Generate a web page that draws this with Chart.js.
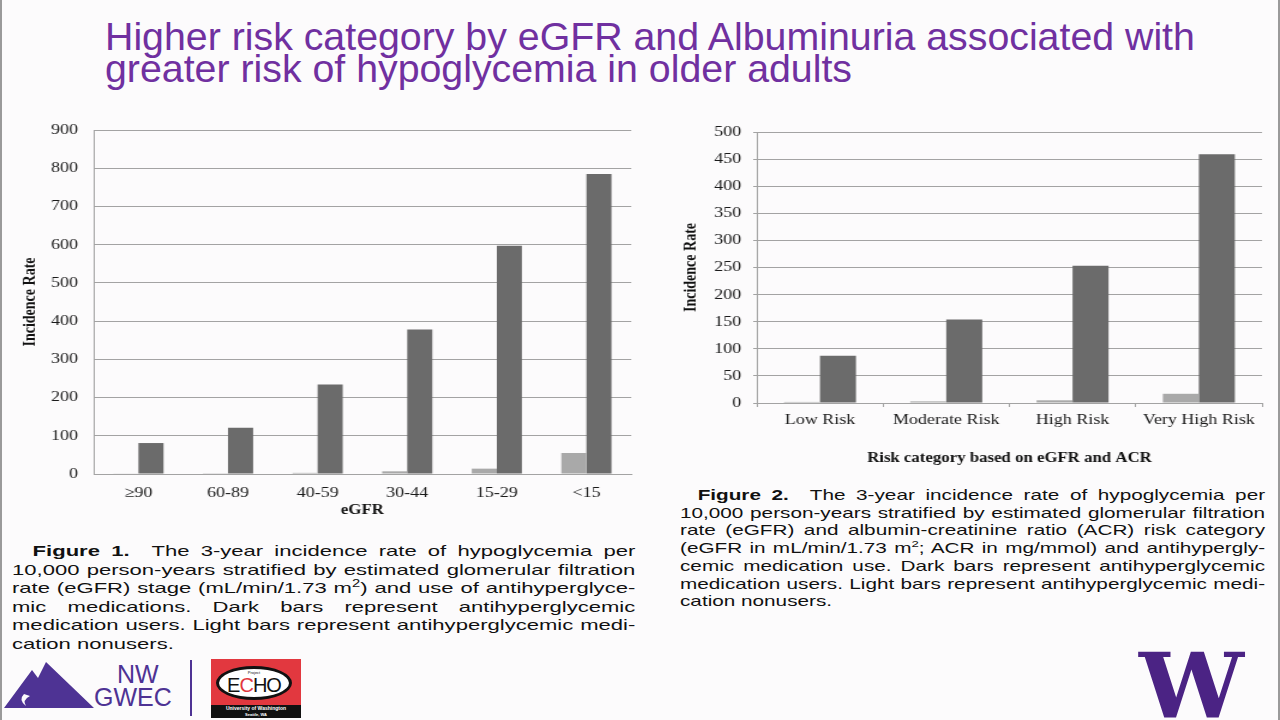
<!DOCTYPE html>
<html>
<head>
<meta charset="utf-8">
<script src="https://cdn.jsdelivr.net/npm/chart.js@4.4.0/dist/chart.umd.min.js"></script>
<style>
  body { margin: 0; width: 1280px; height: 720px; background: #fcfbfc; position: relative; overflow: hidden; font-family: "Liberation Sans", Arial, sans-serif; }
  .edge { position: absolute; top: 0; width: 2px; height: 720px; background: #9a9a9a; }
  h1 { position: absolute; left: 105px; top: 20px; margin: 0; font-weight: normal; font-size: 39.3px; line-height: 32px; color: #7030a0; white-space: nowrap; }
  /* the figures in the slide are stretched sideways, so the canvases are too */
  canvas { position: absolute; transform: scaleX(1.2); transform-origin: 0 0; }
  .cap { position: absolute; color: #111; transform: scaleX(1.47); transform-origin: 0 0; }
  .cap div { text-align: justify; text-align-last: justify; white-space: nowrap; }
  .cap div.last { text-align-last: left; }
  .logo { position: absolute; }
</style>
</head>
<body>
<div class="edge" style="left:0"></div>
<div class="edge" style="left:1278px"></div>

<h1>Higher risk category by eGFR and Albuminuria associated with<br>greater risk of hypoglycemia in older adults</h1>

<canvas id="chart1" width="534" height="422" style="left:0;top:108px;width:534px;height:422px"></canvas>
<canvas id="chart2" width="525" height="367" style="left:650px;top:113px;width:525px;height:367px"></canvas>

<div class="cap" id="cap1" style="left:12px;top:542px;width:424px;font-size:15px;line-height:18.55px">
  <div style="padding-left:14px"><b>Figure 1.</b>&nbsp; The 3-year incidence rate of hypoglycemia per</div>
  <div>10,000 person-years stratified by estimated glomerular filtration</div>
  <div>rate (eGFR) stage (mL/min/1.73 m<sup style="font-size:10px;line-height:0">2</sup>) and use of antihyperglyce-</div>
  <div>mic medications. Dark bars represent antihyperglycemic</div>
  <div>medication users. Light bars represent antihyperglycemic medi-</div>
  <div class="last">cation nonusers.</div>
</div>

<div class="cap" id="cap2" style="left:680px;top:487px;width:398px;font-size:14.1px;line-height:17.7px">
  <div style="padding-left:12px"><b>Figure 2.</b>&nbsp; The 3-year incidence rate of hypoglycemia per</div>
  <div>10,000 person-years stratified by estimated glomerular filtration</div>
  <div>rate (eGFR) and albumin-creatinine ratio (ACR) risk category</div>
  <div>(eGFR in mL/min/1.73 m<sup style="font-size:9px;line-height:0">2</sup>; ACR in mg/mmol) and antihypergly-</div>
  <div>cemic medication use. Dark bars represent antihyperglycemic</div>
  <div>medication users. Light bars represent antihyperglycemic medi-</div>
  <div class="last">cation nonusers.</div>
</div>

<!-- NW GWEC logo -->
<svg class="logo" style="left:4px;top:658px" width="92" height="52" viewBox="0 0 92 52">
  <path d="M0 50 L28 12 L34 20 L42 4 L90 50 Z" fill="#4e3394"/>
  <path d="M20 36 Q14 42 22 48 Q18 42 26 38 Z" fill="#fcfbfc"/>
</svg>
<div class="logo" style="left:117px;top:662px;font-size:25px;line-height:24px;color:#4e3394">NW</div>
<div class="logo" style="left:94px;top:685px;font-size:25px;line-height:24px;color:#4e3394">GWEC</div>
<div class="logo" style="left:190px;top:660px;width:2px;height:56px;background:#4e3394"></div>

<!-- ECHO logo -->
<div class="logo" style="left:211px;top:659px;width:90px;height:59px;background:#e2383f"></div>
<div class="logo" style="left:211px;top:705px;width:90px;height:13px;background:#111;color:#fff;font-size:5px;line-height:6px;text-align:center;font-weight:bold">University of Washington<br><span style="font-size:4px">Seattle, WA</span></div>
<div class="logo" style="left:216px;top:666px;width:76px;height:34px;border:3px solid #111;border-radius:50%;background:#fff;box-sizing:border-box"></div>
<div class="logo" style="left:216px;top:670px;width:76px;text-align:center;font-size:4px;color:#111">Project</div>
<div class="logo" style="left:216px;top:674px;width:76px;text-align:center;font-size:20px;line-height:22px;color:#111;letter-spacing:-1px">E<span style="color:#e2383f">C</span>HO</div>

<!-- W logo -->
<div class="logo" style="left:1139px;top:641px;font-family:'DejaVu Serif',serif;font-weight:bold;font-size:89px;line-height:89px;color:#4b2384;transform:scaleX(1.05);transform-origin:0 0">W</div>

<script>
const egfrStages = ["\u226590", "60-89", "40-59", "30-44", "15-29", "<15"];
const egfrNonusers = [1, 2, 3, 7, 14, 55];
const egfrUsers = [81, 121, 234, 378, 597, 785];
const egfrTicks = [0, 100, 200, 300, 400, 500, 600, 700, 800, 900];

const riskCategories = ["Low Risk", "Moderate Risk", "High Risk", "Very High Risk"];
const riskNonusers = [2, 3, 5, 17];
const riskUsers = [87, 154, 253, 459];
const riskTicks = [0, 50, 100, 150, 200, 250, 300, 350, 400, 450, 500];

const darkBar = "#6b6b6b";
const lightBar = "#a9a9a9";
const gridGray = "#a3a3a3";
const tickFont = { family: "'Liberation Serif', 'Times New Roman', serif", size: 15 };
const titleFont = { family: "'Liberation Serif', 'Times New Roman', serif", size: 14, weight: "bold" };

function makeChart(id, labels, nonusers, users, ticks, opts) {
  return new Chart(document.getElementById(id), {
    type: "bar",
    data: {
      labels: labels,
      datasets: [
        { label: "Nonusers", data: nonusers, backgroundColor: lightBar },
        { label: "Users", data: users, backgroundColor: darkBar },
      ],
    },
    options: {
      responsive: false,
      animation: false,
      categoryPercentage: opts.catPct,
      barPercentage: 1,
      layout: { padding: { left: 0, top: 11, right: opts.padRight, bottom: 0 } },
      plugins: { legend: { display: false }, tooltip: { enabled: false } },
      scales: {
        x: {
          afterFit: (s) => { s.height = opts.xHeight; },
          grid: { display: opts.xTicks, drawOnChartArea: false, color: gridGray, tickLength: 4, offset: true },
          border: { display: true, color: gridGray },
          ticks: { font: tickFont, padding: opts.xPad, color: "#1a1a1a", maxRotation: 0 },
          title: { display: true, text: opts.xTitle, font: titleFont, color: "#111", padding: { bottom: opts.xTitlePad, top: 0 } },
        },
        y: {
          min: 0,
          max: ticks[ticks.length - 1],
          afterFit: (s) => { s.width = opts.yWidth; },
          afterBuildTicks: (s) => { s.ticks = ticks.map((v) => ({ value: v })); },
          grid: { color: gridGray, drawTicks: opts.yTickLen > 0, tickLength: opts.yTickLen },
          border: { display: true, color: gridGray },
          ticks: { font: tickFont, padding: opts.yPad, color: "#1a1a1a" },
          title: { display: true, text: "Incidence Rate", font: titleFont, color: "#111", padding: { top: opts.yTitlePad, bottom: 0 } },
        },
      },
    },
  });
}

makeChart("chart1", egfrStages, egfrNonusers, egfrUsers, egfrTicks, {
  catPct: 0.56, padRight: 8, xHeight: 56, yWidth: 78,
  xTicks: false, xPad: 6, xTitle: "eGFR", xTitlePad: 11,
  yTickLen: 0, yPad: 13, yTitlePad: 17,
});

makeChart("chart2", riskCategories, riskNonusers, riskUsers, riskTicks, {
  catPct: 0.57, padRight: 15, xHeight: 77, yWidth: 89,
  xTicks: true, xPad: 4, xTitle: "Risk category based on eGFR and ACR", xTitlePad: 13,
  yTickLen: 3, yPad: 10, yTitlePad: 26,
});
</script>
</body>
</html>
